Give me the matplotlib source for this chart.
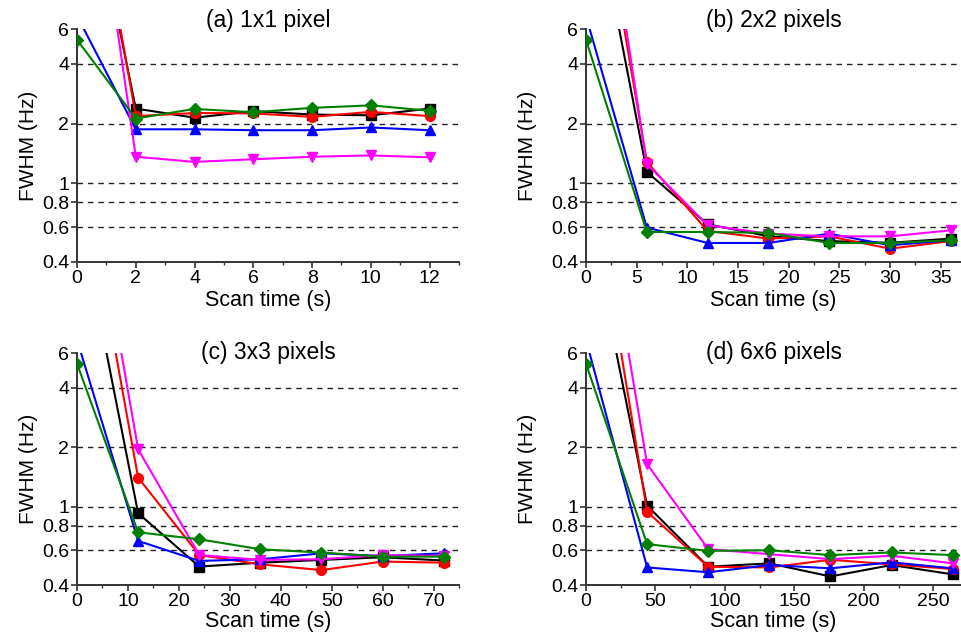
import numpy as np
import matplotlib.pyplot as plt

plt.rcParams['font.family'] = ['Liberation Sans', 'DejaVu Sans']

# scan time (s) for each panel
x_a = [0, 2, 4, 6, 8, 10, 12]
x_b = [0, 6, 12, 18, 24, 30, 36]
x_c = [0, 12, 24, 36, 48, 60, 72]
x_d = [0, 44, 88, 132, 176, 220, 264]

# FWHM (Hz)
black_a = [68, 2.38, 2.14, 2.31, 2.22, 2.20, 2.38]
red_a = [107, 2.18, 2.26, 2.25, 2.16, 2.29, 2.18]
blue_a = [7.0, 1.87, 1.87, 1.85, 1.85, 1.91, 1.85]
magenta_a = [153, 1.36, 1.28, 1.32, 1.36, 1.38, 1.35]
green_a = [5.3, 2.12, 2.37, 2.28, 2.40, 2.47, 2.32]

black_b = [44, 1.14, 0.62, 0.54, 0.51, 0.50, 0.525]
red_b = [83, 1.28, 0.574, 0.525, 0.539, 0.467, 0.51]
blue_b = [6.95, 0.597, 0.499, 0.499, 0.556, 0.486, 0.515]
magenta_b = [128, 1.25, 0.613, 0.556, 0.539, 0.539, 0.578]
green_b = [5.3, 0.567, 0.567, 0.561, 0.499, 0.499, 0.515]

black_c = [34.5, 0.925, 0.496, 0.519, 0.536, 0.553, 0.532]
red_c = [74, 1.40, 0.568, 0.509, 0.476, 0.526, 0.519]
blue_c = [7.0, 0.669, 0.530, 0.540, 0.579, 0.561, 0.579]
magenta_c = [117, 1.95, 0.568, 0.536, 0.540, 0.568, 0.561]
green_c = [5.3, 0.74, 0.682, 0.607, 0.584, 0.557, 0.557]

black_d = [35, 1.01, 0.495, 0.515, 0.442, 0.505, 0.453]
red_d = [74, 0.94, 0.495, 0.491, 0.537, 0.509, 0.482]
blue_d = [7.0, 0.491, 0.464, 0.505, 0.486, 0.521, 0.486]
magenta_d = [117, 1.64, 0.608, 0.573, 0.541, 0.563, 0.515]
green_d = [5.3, 0.644, 0.596, 0.60, 0.567, 0.585, 0.567]

titles = ['(a) 1x1 pixel', '(b) 2x2 pixels', '(c) 3x3 pixels', '(d) 6x6 pixels']
yticks = [0.4, 0.6, 0.8, 1, 2, 4, 6]
ytick_labels = ['0.4', '0.6', '0.8', '1', '2', '4', '6']
grid_levels = [0.6, 0.8, 1, 2, 4]

panels = [
    (x_a, [black_a, red_a, blue_a, magenta_a, green_a], 13, 2, 1),
    (x_b, [black_b, red_b, blue_b, magenta_b, green_b], 37, 5, 2.5),
    (x_c, [black_c, red_c, blue_c, magenta_c, green_c], 75, 10, 5),
    (x_d, [black_d, red_d, blue_d, magenta_d, green_d], 270, 50, 25),
]
styles = [('black', 's', 6.5), ('#ff0000', 'o', 7), ('#0000ff', '^', 7),
          ('#ff00ff', 'v', 7), ('#008000', 'D', 6)]

W, H = 961, 636
fig = plt.figure(figsize=(W / 100, H / 100), dpi=100)
# axes boxes in pixels: left, top, right, bottom
boxes = [(77, 29, 459, 262), (586, 29, 961, 262),
         (77, 353, 459, 585), (586, 353, 961, 585)]
title_off = [8, 8, 1, 1]
ylab_off = [39, 49, 39, 49]
xlab_off = [28, 28, 26, 26]

for i, (xs, series, xmax, major, minor) in enumerate(panels):
    l, t, r, b = boxes[i]
    ax = fig.add_axes([l / W, 1 - b / H, (r - l) / W, (b - t) / H])
    ax.set_yscale('log')
    for lv in grid_levels:
        ax.axhline(lv, color='#222222', lw=1.0, ls=(0, (4, 3.5)), zorder=1)
    for ys, (c, m, ms) in zip(series, styles):
        ax.plot(xs, ys, color=c, marker=m, ms=ms, lw=1.5, zorder=3)
    ax.set_ylim(0.4, 6)
    ax.set_xlim(0, xmax)
    ax.set_yticks(yticks)
    ax.set_yticklabels(ytick_labels)
    ax.yaxis.set_minor_locator(plt.NullLocator())
    ax.set_xticks(np.arange(0, xmax + 0.01, major))
    ax.set_xticks(np.arange(0, xmax + 0.01, minor), minor=True)
    ax.tick_params(axis='both', which='major', direction='out', length=4,
                   width=1.2, labelsize=14, pad=1.5, color='#333333')
    ax.tick_params(axis='x', which='minor', direction='out', length=2.5,
                   width=1.0, color='#333333')
    for s in ['top', 'right']:
        ax.spines[s].set_visible(False)
    for s in ['left', 'bottom']:
        ax.spines[s].set_color('#333333')
        ax.spines[s].set_linewidth(1.4)
    ax.set_xlabel('Scan time (s)', fontsize=15.5)
    ax.set_ylabel('FWHM (Hz)', fontsize=15)
    wpx = r - l
    hpx = b - t
    ax.yaxis.set_label_coords(-ylab_off[i] / wpx, 0.5)
    ax.xaxis.set_label_coords(0.5, -xlab_off[i] / hpx)
    ax.text(0.5, 1 + title_off[i] / hpx, titles[i], transform=ax.transAxes,
            ha='center', va='center', fontsize=16.5)

fig.savefig('out.png', dpi=100)
